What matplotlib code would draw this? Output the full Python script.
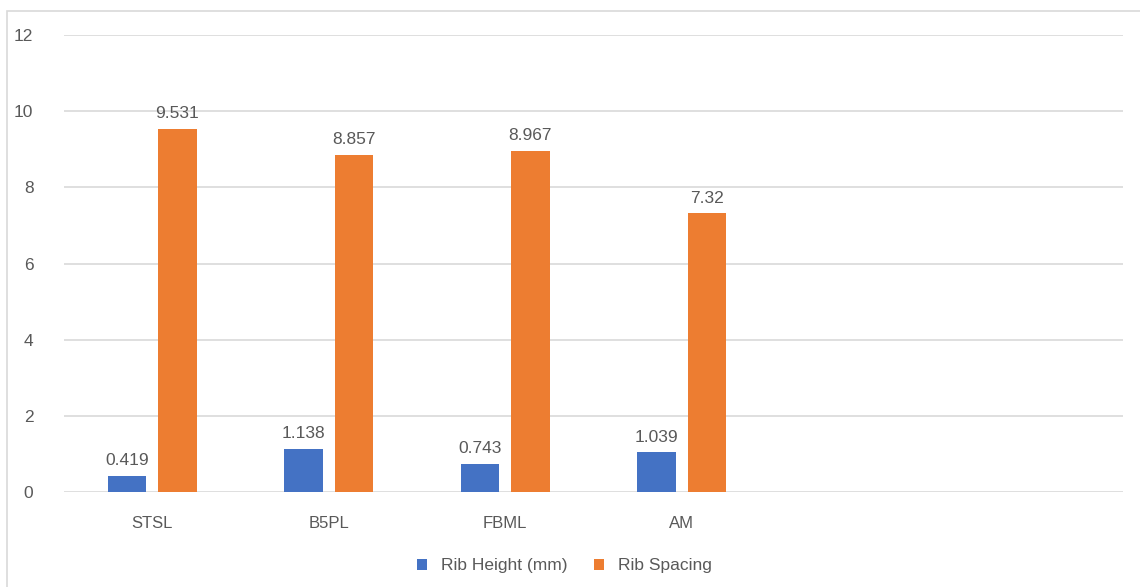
import numpy as np
import matplotlib.pyplot as plt
from matplotlib.patches import Rectangle

plt.rcParams['font.family'] = ['Liberation Sans', 'DejaVu Sans']

# six category slots on the axis, the last two left empty
categories = ['STSL', 'B5PL', 'FBML', 'AM', '', '']
rib_height = [0.419, 1.138, 0.743, 1.039]
rib_spacing = [9.531, 8.857, 8.967, 7.32]
height_labels = ['0.419', '1.138', '0.743', '1.039']
spacing_labels = ['9.531', '8.857', '8.967', '7.32']
yticks = [0, 2, 4, 6, 8, 10, 12]

blue = '#4472c4'
orange = '#ed7d31'
grey = '#595959'

fig = plt.figure(figsize=(11.4, 5.87), dpi=100)
ax = fig.add_axes([64/1140, 1-492/587, (1123-64)/1140, (492-35)/587])

# chart frame
fig.patches.append(Rectangle((7/1140, -0.01), 1.2, 1-11/587+0.01,
                             transform=fig.transFigure, fill=False,
                             edgecolor='#d9d9d9', lw=1.2))

x = np.arange(len(categories))
n = len(rib_height)
w = 0.22
off = 0.143

b1 = ax.bar(x[:n] - off, rib_height, w, color=blue, label='Rib Height (mm)', zorder=3)
b2 = ax.bar(x[:n] + off, rib_spacing, w, color=orange, label='Rib Spacing', zorder=3)

for bar, lab in zip(b1, height_labels):
    ax.text(bar.get_x() + bar.get_width()/2, bar.get_height() + 0.2, lab,
            ha='center', va='bottom', fontsize=12.5, color=grey)
for bar, lab in zip(b2, spacing_labels):
    ax.text(bar.get_x() + bar.get_width()/2, bar.get_height() + 0.2, lab,
            ha='center', va='bottom', fontsize=12.5, color=grey)

ax.set_xlim(-0.5, len(categories) - 0.5)
ax.set_ylim(0, 12)
ax.set_yticks(yticks)
ax.set_xticks(x)
ax.set_xticklabels(categories)
ax.tick_params(axis='y', length=0, pad=22, labelsize=12.5, labelcolor=grey)
ax.tick_params(axis='x', length=0, pad=17, labelsize=12, labelcolor=grey)
ax.grid(axis='y', color='#d9d9d9', lw=1.2, zorder=0)
for s in ['top', 'right', 'left', 'bottom']:
    ax.spines[s].set_visible(False)

fig.legend(loc='center', bbox_to_anchor=(0.495, 0.036), ncol=2, frameon=False,
           fontsize=12.5, labelcolor=grey, handlelength=0.6, handleheight=0.6,
           columnspacing=1.5, handletextpad=0.8)

fig.savefig('out.png', dpi=100)
